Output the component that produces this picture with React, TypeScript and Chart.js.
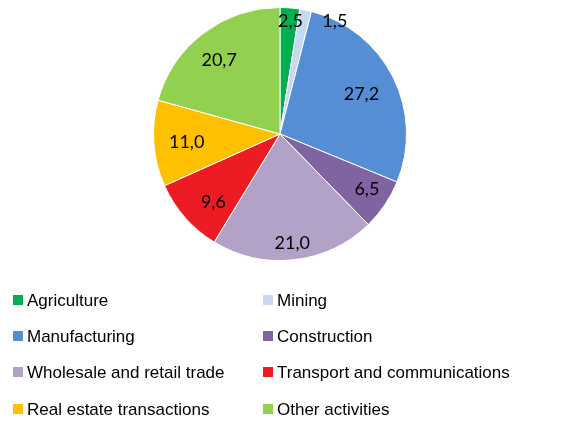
import React, { useEffect, useRef } from "react";
import { Chart, registerables } from "chart.js";

Chart.register(...registerables);

const categories = [
  "Agriculture",
  "Mining",
  "Manufacturing",
  "Construction",
  "Wholesale and retail trade",
  "Transport and communications",
  "Real estate transactions",
  "Other activities",
];
const shares = [2.5, 1.5, 27.2, 6.5, 21.0, 9.6, 11.0, 20.7];
const colors = ["#00B050", "#C6D9F1", "#558ED5", "#8064A2", "#B3A2C7", "#ED1C24", "#FFC000", "#92D050"];

// label radius factors (fraction of outer radius) and angle nudges (deg)
const labelRadius = [0.9, 1.0, 0.72, 0.81, 0.86, 0.75, 0.74, 0.76];
const labelAngle = [0.8, 14, 0, -2, 0, -4, 0, -2];

const labelsPlugin = {
  id: "sliceLabels",
  afterDatasetsDraw(chart: any) {
    const ctx = chart.ctx;
    const meta = chart.getDatasetMeta(0);
    ctx.save();
    ctx.font = "18px Lato";
    ctx.fillStyle = "#000";
    ctx.textAlign = "center";
    ctx.textBaseline = "middle";
    meta.data.forEach((arc: any, i: number) => {
      const p = arc.getProps(["x", "y", "startAngle", "endAngle", "outerRadius"], true);
      const mid = (p.startAngle + p.endAngle) / 2 + (labelAngle[i] * Math.PI) / 180;
      const r = p.outerRadius * labelRadius[i];
      const txt = shares[i].toFixed(1).replace(".", ",");
      ctx.fillText(txt, p.x + Math.cos(mid) * r, p.y + Math.sin(mid) * r + 1);
    });
    ctx.restore();
  },
};

const legendPlugin = {
  id: "gridLegend",
  afterDraw(chart: any) {
    const ctx = chart.ctx;
    ctx.save();
    ctx.font = "17px 'Liberation Sans'";
    ctx.textBaseline = "middle";
    ctx.textAlign = "left";
    const colX = [13, 263];
    const rowY = [300, 336, 372, 409];
    categories.forEach((c, i) => {
      const x = colX[i % 2];
      const y = rowY[Math.floor(i / 2)];
      ctx.fillStyle = colors[i];
      ctx.fillRect(x, y - 5, 10, 10);
      ctx.fillStyle = "#000";
      ctx.fillText(c, x + 14, y + 1);
    });
    ctx.restore();
  },
};

export default function App() {
  const ref = useRef<HTMLCanvasElement>(null);
  useEffect(() => {
    const chart = new Chart(ref.current!, {
      type: "pie",
      data: {
        labels: categories,
        datasets: [
          {
            data: shares,
            backgroundColor: colors,
            borderColor: "#ffffff",
            borderWidth: 1,
          },
        ],
      },
      options: {
        animation: false,
        responsive: false,
        layout: { padding: { left: 153, top: 7, right: 166, bottom: 160 } },
        plugins: { legend: { display: false }, tooltip: { enabled: false } },
      },
      plugins: [labelsPlugin, legendPlugin],
    });
    return () => chart.destroy();
  }, []);
  return (
    <div style={{ position: "fixed", left: 0, top: 0, width: 573, height: 421, background: "#fff" }}>
      <canvas ref={ref} width={573} height={421} style={{ width: 573, height: 421 }} />
    </div>
  );
}
